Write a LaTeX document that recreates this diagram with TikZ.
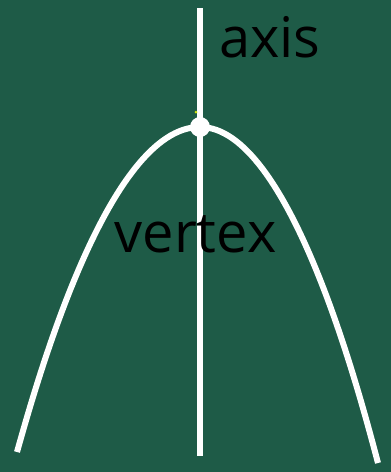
\documentclass[tikz,border=0pt]{standalone}
\usepackage{fontspec}
\setmainfont{Open Sans}
\definecolor{bggreen}{RGB}{30,91,71}
\begin{document}
\begin{tikzpicture}[x=1pt,y=-1pt,
  curve/.style={draw=white,line width=6pt},
  lbl/.style={text=black,font=\fontsize{56}{56}\selectfont,inner sep=0pt,anchor=base}]
\fill[bggreen] (0,0) rectangle (391,472);
\useasboundingbox (0,0) rectangle (391,472);
\coordinate (L) at (17,452);
\coordinate (V) at (200,127);
\coordinate (R) at (378,463);
\coordinate (top) at (200,8);
\coordinate (bot) at (200,456);
\draw[curve] (L) parabola bend (V) (R);
\draw[curve,line width=6.5pt] (top) -- (bot);
\fill[white] (V) circle (10);
\fill[yellow!80!green] (196,112) circle (1.5);
\node[lbl] (axis) at (270,57) {axis};
\node[lbl] (vertex) at (195.5,252) {vertex};
\end{tikzpicture}
\end{document}
